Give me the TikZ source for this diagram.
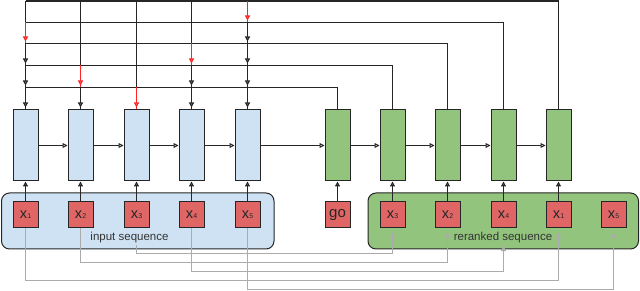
\documentclass[tikz,border=0pt]{standalone}
\usepackage{fontspec}
\setmainfont{Liberation Sans}
\usetikzlibrary{arrows.meta,calc}
\definecolor{encblue}{HTML}{CFE2F3}
\definecolor{decgreen}{HTML}{93C47D}
\definecolor{tokred}{HTML}{E06666}
\definecolor{linedark}{HTML}{262626}
\definecolor{graylink}{HTML}{ABABAB}
\definecolor{selred}{HTML}{FF2424}
\newcommand{\xsub}[1]{x\kern0.3pt{\fontsize{7}{7}\selectfont #1}}
\begin{document}
\begin{tikzpicture}[x=1pt,y=-1pt,
  cell/.style={draw=linedark, line width=1pt, minimum width=25pt, minimum height=71pt, inner sep=0pt},
  enc/.style={cell, fill=encblue},
  dec/.style={cell, fill=decgreen},
  tok/.style={draw=linedark, line width=1pt, fill=tokred, minimum width=25pt, minimum height=26pt, inner sep=0pt, text=black!85, font=\fontsize{14.5}{14.5}\selectfont},
  gridline/.style={draw=linedark, line width=1.2pt},
  downarrow/.style={gridline, postaction={draw, shorten >=2pt, -{Triangle[length=5pt, width=5pt, fill=white]}}},
  selarrow/.style={draw=selred, line width=1.2pt, postaction={draw, shorten >=2pt, -{Triangle[length=5pt, width=5pt, fill=white]}}},
  flowarrow/.style={draw=linedark, line width=1pt, -{Triangle[length=5pt, width=5pt, fill=white]}},
  feedarrow/.style={draw=linedark, line width=1.4pt, -{Triangle[length=5pt, width=5pt, fill=white]}},
  link/.style={draw=graylink, line width=1pt, -{Triangle[length=6pt, width=5pt]}, shorten >=4pt},
  seqbox/.style={draw=linedark, line width=1pt, rounded corners=8pt},
  seqlabel/.style={font=\fontsize{11.5}{11.5}\selectfont, text=black!80, inner sep=1.5pt, anchor=base}
]
\useasboundingbox (0,0) rectangle (640,291);

% sequence containers
\draw[seqbox, fill=encblue] (1.5,193) rectangle (274,249);
\draw[seqbox, fill=decgreen] (368,193) rectangle (638.5,249);
\node[seqlabel] (ilab) at (129.5,241) {input sequence};
\node[seqlabel] (rlab) at (503,241) {reranked sequence};

% encoder cells and inputs
\foreach \j/\x in {1/25.5,2/80.5,3/136.5,4/191.5,5/247.5}{
  \node[enc] (e\j) at (\x,145.5) {};
  \node[tok] (i\j) at (\x,215) {\xsub{\j}};
}
% decoder cells
\foreach \j/\x in {1/337.5,2/392.5,3/447.5,4/503.5,5/558.5}{
  \node[dec] (d\j) at (\x,145.5) {};
}
% decoder inputs / reranked tokens
\node[tok, font=\fontsize{15}{15}\selectfont] (g) at (337.5,215) {go};
\node[tok] (r1) at (392.5,215) {\xsub{3}};
\node[tok] (r2) at (447.5,215) {\xsub{2}};
\node[tok] (r3) at (503.5,215) {\xsub{4}};
\node[tok] (r4) at (558.5,215) {\xsub{1}};
\node[tok] (r5) at (613.5,215) {\xsub{5}};

% grid coordinates
\foreach \j/\x in {1/25.5,2/80.5,3/136.5,4/191.5,5/247.5}{
  \foreach \k/\y in {0/1.2,1/22.5,2/43.5,3/65.5,4/87.5}{
    \coordinate (p\j-\k) at (\x,\y);
  }
  \coordinate (p\j-5) at (e\j.north);
}

% horizontal lines from decoder cells
\draw[gridline, line width=1.7pt] (p1-0) -| (d5.north);
\draw[gridline] (p1-1) -| (d4.north);
\draw[gridline] (p1-2) -| (d3.north);
\draw[gridline] (p1-3) -| (d2.north);
\draw[gridline] (p1-4) -| (d1.north);

% vertical segments: plain before selection, red at selection, arrows after
\foreach \j/\r in {1/1,2/3,3/4,4/2,5/0}{
  \foreach \k [evaluate=\k as \n using int(\k+1)] in {0,...,4}{
    \ifnum\k<\r\relax
      \draw[gridline] (p\j-\k) -- (p\j-\n);
    \else\ifnum\k=\r\relax
      \draw[selarrow] (p\j-\k) -- (p\j-\n);
    \else
      \draw[downarrow] (p\j-\k) -- (p\j-\n);
    \fi\fi
  }
}

% recurrent connections
\draw[flowarrow] (e1.east) -- (e2.west);
\draw[flowarrow] (e2.east) -- (e3.west);
\draw[flowarrow] (e3.east) -- (e4.west);
\draw[flowarrow] (e4.east) -- (e5.west);
\draw[flowarrow] (e5.east) -- (d1.west);
\draw[flowarrow] (d1.east) -- (d2.west);
\draw[flowarrow] (d2.east) -- (d3.west);
\draw[flowarrow] (d3.east) -- (d4.west);
\draw[flowarrow] (d4.east) -- (d5.west);

% token inputs
\foreach \j in {1,...,5}{ \draw[feedarrow] (i\j.north) -- (e\j.south); }
\draw[feedarrow] (g.north) -- (d1.south);
\draw[feedarrow] (r1.north) -- (d2.south);
\draw[feedarrow] (r2.north) -- (d3.south);
\draw[feedarrow] (r3.north) -- (d4.south);
\draw[feedarrow] (r4.north) -- (d5.south);

% reranking links
\coordinate (h1) at (0,253.5);
\coordinate (h2) at (0,262.5);
\coordinate (h3) at (0,271.5);
\coordinate (h4) at (0,280.5);
\coordinate (h5) at (0,289.5);
\draw[link] (i3.south |- ilab.south) -- (i3.south |- h1) -| (r1.south);
\draw[link] (i2.south) -- (i2.south |- h2) -| (r2.south);
\draw[link, shorten >=0pt] (i4.south) -- (i4.south |- h3) -| (r3.south |- rlab.south);
\draw[link] (i1.south) -- (i1.south |- h4) -| (r4.south);
\draw[link] (i5.south) -- (i5.south |- h5) -| (r5.south);
\end{tikzpicture}
\end{document}
